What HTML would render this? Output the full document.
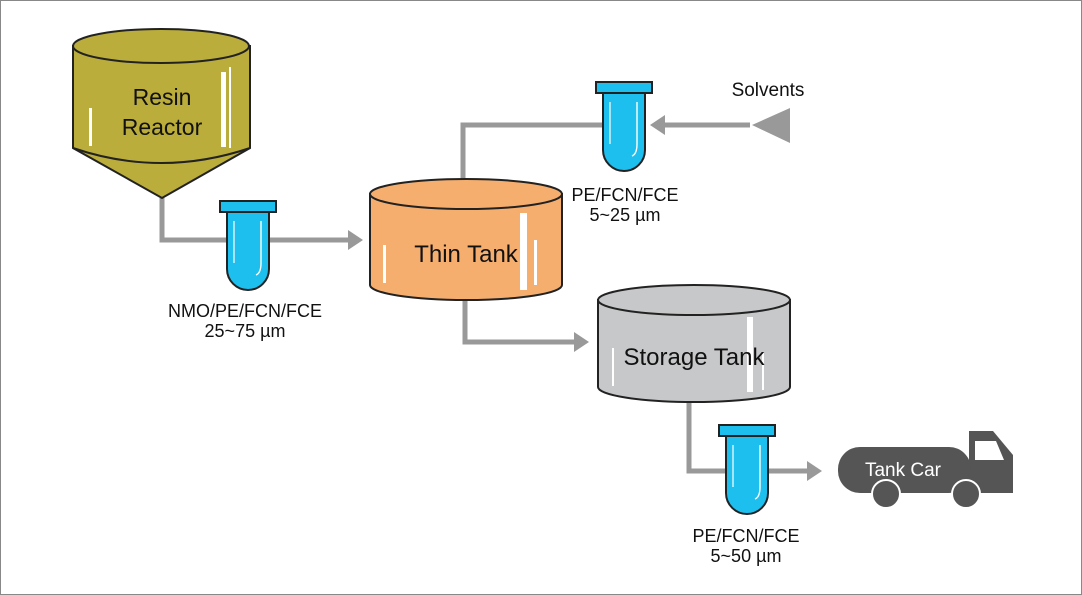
<!DOCTYPE html>
<html><head><meta charset="utf-8"><style>
html,body{margin:0;padding:0;background:#fff}
svg{display:block}
text{font-family:"Liberation Sans",sans-serif}
</style></head><body>
<svg width="1082" height="595" viewBox="0 0 1082 595" xmlns="http://www.w3.org/2000/svg">
<defs>
<marker id="ar" markerWidth="4" markerHeight="4" refX="2" refY="2" orient="auto" markerUnits="strokeWidth">
<path d="M0,0 L3,2 L0,4 Z" fill="#999"/></marker>
<g id="filt">
<rect x="-28" y="0" width="56" height="11" fill="#1dbfef" stroke="#222" stroke-width="2"/>
<path d="M-21,11 V68 A21,21 0 0 0 21,68 V11 Z" fill="#1dbfef" stroke="#222" stroke-width="2"/>
<path d="M-14,20 V62" stroke="#fff" stroke-width="1.2"/>
<path d="M13,20 V62 Q13,72 8,74" stroke="#fff" stroke-width="1.4" fill="none"/>
</g>
</defs>
<rect x="0.5" y="0.5" width="1081" height="594" fill="#fff" stroke="#888"/>
<g stroke="#999" stroke-width="5" fill="none">
<path d="M162,198 V240 H358" marker-end="url(#ar)"/>
<path d="M750,125 H655" marker-end="url(#ar)"/>
<path d="M603,125 H463 V192" marker-end="url(#ar)"/>
<path d="M465,298 V342 H584" marker-end="url(#ar)"/>
<path d="M689,400 V471 H817" marker-end="url(#ar)"/>
</g>
<polygon points="752,125 790,108 790,143" fill="#999"/>
<path d="M73,46 V148 L162,198 L250,148 V46 Z" fill="#bbad3b" stroke="#222" stroke-width="2"/>
<ellipse cx="161" cy="46" rx="88" ry="17" fill="#bbad3b" stroke="#222" stroke-width="2"/>
<path d="M73,148 Q161,178 250,148" fill="none" stroke="#222" stroke-width="2"/>
<rect x="89" y="108" width="3" height="38" fill="#fff"/>
<rect x="221" y="72" width="5" height="75" fill="#fff"/>
<rect x="229" y="67" width="2" height="81" fill="#fff"/>
<text x="162" y="105" font-size="23" text-anchor="middle" fill="#111">Resin</text>
<text x="162" y="135" font-size="23" text-anchor="middle" fill="#111">Reactor</text>
<path d="M370,194 V285 A96,15 0 0 0 562,285 V194 Z" fill="#f5ae6e" stroke="#222" stroke-width="2"/>
<ellipse cx="466" cy="194" rx="96" ry="15" fill="#f5ae6e" stroke="#222" stroke-width="2"/>
<rect x="520" y="213" width="7" height="77" fill="#fff"/>
<rect x="534" y="240" width="3" height="45" fill="#fff"/>
<rect x="383" y="245" width="3" height="38" fill="#fff"/>
<text x="466" y="262" font-size="24" text-anchor="middle" fill="#111">Thin Tank</text>
<path d="M598,300 V387 A96,15 0 0 0 790,387 V300 Z" fill="#c7c8c9" stroke="#222" stroke-width="2"/>
<ellipse cx="694" cy="300" rx="96" ry="15" fill="#c7c8c9" stroke="#222" stroke-width="2"/>
<rect x="747" y="317" width="6" height="75" fill="#fff"/>
<rect x="762" y="352" width="2" height="38" fill="#fff"/>
<rect x="612" y="348" width="2" height="38" fill="#fff"/>
<text x="694" y="365" font-size="24" text-anchor="middle" fill="#111">Storage Tank</text>
<use href="#filt" x="248" y="201"/>
<use href="#filt" x="624" y="82"/>
<use href="#filt" x="747" y="425"/>
<g font-size="18" fill="#111" text-anchor="middle">
<text x="245" y="317">NMO/PE/FCN/FCE</text>
<text x="245" y="337">25~75 µm</text>
<text x="625" y="201">PE/FCN/FCE</text>
<text x="625" y="221">5~25 µm</text>
<text x="746" y="542">PE/FCN/FCE</text>
<text x="746" y="562">5~50 µm</text>
<text x="768" y="96" font-size="19">Solvents</text>
</g>
<path d="M969,431 H993 L1013,455 V493 H969 Z" fill="#555"/>
<path d="M975,441 H996 L1004,460 H975 Z" fill="#fff"/>
<rect x="838" y="447" width="133" height="46" rx="22" fill="#555"/>
<circle cx="886" cy="494" r="14" fill="#555" stroke="#fff" stroke-width="2"/>
<circle cx="966" cy="494" r="14" fill="#555" stroke="#fff" stroke-width="2"/>
<text x="903" y="476" font-size="19" text-anchor="middle" fill="#fff">Tank Car</text>
</svg>
</body></html>
